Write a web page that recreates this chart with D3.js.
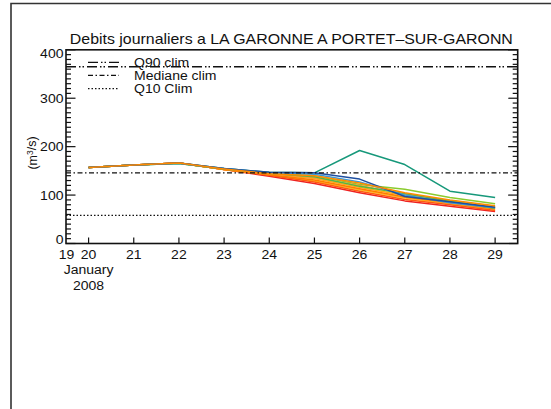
<!DOCTYPE html>
<html>
<head>
<meta charset="utf-8">
<script src="https://cdn.jsdelivr.net/npm/d3@7"></script>
<style>
  html, body { margin: 0; padding: 0; background: #fff; }
  svg { display: block; font-family: "Liberation Sans", Arial, Helvetica, sans-serif; }
</style>
</head>
<body>
<svg id="chart" width="551" height="409"></svg>
<script>
// Daily discharge, January 2008 (m3/s)
const days = [20, 21, 22, 23, 24, 25, 26, 27, 28, 29];

// Ensemble members, in drawing order
const seriesNames = ["m01", "m02", "m03", "m04", "m05", "m06", "m07", "m08", "m09", "m10", "m11", "m12"];
const seriesColors = ["#16987a", "#ee2222", "#8acb2e", "#ffc020", "#ff5a10", "#ffaa10", "#ff7a00", "#ff9a30", "#4fb848", "#3a9ad8", "#1f4fa0", "#ff8a00"];
const seriesValues = [
  [157, 162, 166, 155, 147, 146, 192, 163, 108, 95],
  [157, 162, 166, 153, 139, 124, 105, 88, 77, 66],
  [157, 162, 165, 154, 145, 140, 122, 112, 95, 82],
  [157, 162, 166, 153, 142, 129, 111, 94, 82, 70],
  [157, 162, 166, 153, 141, 127, 108, 91, 80, 68],
  [157, 162, 166, 153, 143, 134, 116, 99, 86, 74],
  [157, 162, 166, 153, 142, 131, 113, 96, 84, 72],
  [157, 162, 166, 154, 144, 136, 120, 102, 88, 76],
  [157, 162, 165, 154, 145, 138, 118, 103, 88, 73],
  [157, 162, 165, 155, 146, 143, 127, 100, 84, 74],
  [157, 162, 166, 155, 147, 146, 133, 97, 86, 75],
  [157, 162, 166, 154, 144, 140, 125, 105, 90, 78]
];

// Climatological reference levels
const refNames = ["Q90 clim", "Mediane clim", "Q10 Clim"];
const refValues = [365, 146, 58];
const refDash = ["10,3,1.5,2,1.5,3", "5,2.5,1.5,2.5", "1.5,2"];

const yTicks = [0, 100, 200, 300, 400];
const xTicks = [20, 21, 22, 23, 24, 25, 26, 27, 28, 29];
const titleText = "Debits journaliers a LA GARONNE A PORTET\u2013SUR-GARONN";

const svg = d3.select("#chart");
const plotL = 66, plotR = 517.7, plotT = 49.8, plotB = 243.5;
const WIDEN = 1.12; // glyphs are set a little wider than the base face

const x = d3.scaleLinear().domain([19.5, 29.5]).range([plotL, plotR]);
const y = d3.scaleLinear().domain([0, 400]).range([plotB, plotT]);

function widen(sel) {
  sel.each(function () {
    const w = this.getComputedTextLength();
    d3.select(this).attr("textLength", w * WIDEN).attr("lengthAdjust", "spacingAndGlyphs");
  });
  return sel;
}

// Outer frame (top and left edges)
svg.append("path")
  .attr("d", `M11,409 L11,3.5 L551,3.5`)
  .attr("fill", "none").attr("stroke", "#333").attr("stroke-width", 1.6);

// Title
widen(svg.append("text")
  .attr("x", (plotL + plotR) / 2 - 0.5).attr("y", 44)
  .attr("text-anchor", "middle")
  .attr("font-size", 14.2).attr("fill", "#111")
  .text(titleText));

// Data series
const line = d3.line().x((d, i) => x(days[i])).y(d => y(d));
const plot = svg.append("g");
seriesValues.forEach((vals, k) => {
  plot.append("path")
    .attr("class", "series " + seriesNames[k])
    .attr("d", line(vals))
    .attr("fill", "none")
    .attr("stroke", seriesColors[k])
    .attr("stroke-width", 1.5)
    .attr("stroke-linejoin", "round");
});

// Reference levels
refValues.forEach((v, i) => {
  svg.append("line")
    .attr("x1", plotL).attr("x2", plotR)
    .attr("y1", y(v)).attr("y2", y(v))
    .attr("stroke", "#111").attr("stroke-width", 1.3)
    .attr("stroke-dasharray", refDash[i]);
});

// Legend
const legendY = [62.3, 75.3, 88.6];
refNames.forEach((name, i) => {
  svg.append("line")
    .attr("x1", 88).attr("x2", 119)
    .attr("y1", legendY[i]).attr("y2", legendY[i])
    .attr("stroke", "#111").attr("stroke-width", 1.3)
    .attr("stroke-dasharray", refDash[i]);
  widen(svg.append("text")
    .attr("x", 134).attr("y", legendY[i])
    .attr("dy", "0.36em")
    .attr("font-size", 12.5).attr("fill", "#111")
    .text(name));
});

// Axes: inward ticks, minor every 10
const axisG = svg.append("g");
const minor = d3.range(0, 401, 10);
const majorSet = new Set(yTicks);

minor.forEach(v => {
  const len = majorSet.has(v) ? 9.5 : 5;
  axisG.append("line").attr("x1", plotL).attr("x2", plotL + len)
    .attr("y1", y(v)).attr("y2", y(v))
    .attr("stroke", "#111").attr("stroke-width", 1.2);
  axisG.append("line").attr("x1", plotR).attr("x2", plotR - len)
    .attr("y1", y(v)).attr("y2", y(v))
    .attr("stroke", "#111").attr("stroke-width", 1.2);
});

xTicks.forEach(d => {
  axisG.append("line").attr("x1", x(d)).attr("x2", x(d))
    .attr("y1", plotB).attr("y2", plotB - 6)
    .attr("stroke", "#111").attr("stroke-width", 1.2);
});

axisG.append("rect")
  .attr("x", plotL).attr("y", plotT)
  .attr("width", plotR - plotL).attr("height", plotB - plotT)
  .attr("fill", "none").attr("stroke", "#111").attr("stroke-width", 1.6);

// Y tick labels (end labels pulled inside the axis span)
yTicks.forEach(v => {
  const shift = v === 0 ? -4 : (v === 400 ? 4 : 0);
  widen(svg.append("text")
    .attr("x", plotL - 2.5).attr("y", y(v) + shift)
    .attr("dy", "0.36em")
    .attr("text-anchor", "end")
    .attr("font-size", 12.5).attr("fill", "#111")
    .text(d3.format("d")(v)));
});

// X tick labels (axis start labelled with its day)
const xLabels = [19.5].concat(xTicks);
xLabels.forEach(d => {
  widen(svg.append("text")
    .attr("x", d === 19.5 ? x(d) + 0.5 : x(d)).attr("y", 254)
    .attr("dy", "0.36em")
    .attr("text-anchor", "middle")
    .attr("font-size", 12.5).attr("fill", "#111")
    .text(Math.floor(d)));
});
widen(svg.append("text").attr("x", x(20)).attr("y", 269.5).attr("dy", "0.36em")
  .attr("text-anchor", "middle").attr("font-size", 12.5).attr("fill", "#111")
  .text("January"));
widen(svg.append("text").attr("x", x(20)).attr("y", 285.5).attr("dy", "0.36em")
  .attr("text-anchor", "middle").attr("font-size", 12.5).attr("fill", "#111")
  .text("2008"));

// Y axis title
const yt = svg.append("text")
  .attr("transform", `translate(32,153) rotate(-90)`)
  .attr("text-anchor", "middle")
  .attr("dy", "0.36em")
  .attr("font-size", 12.5).attr("fill", "#111");
yt.append("tspan").text("(m");
yt.append("tspan").attr("font-size", 8.5).attr("dy", "-0.45em").text("3");
yt.append("tspan").attr("dy", "0.3em").text("/s)");
</script>
</body>
</html>
